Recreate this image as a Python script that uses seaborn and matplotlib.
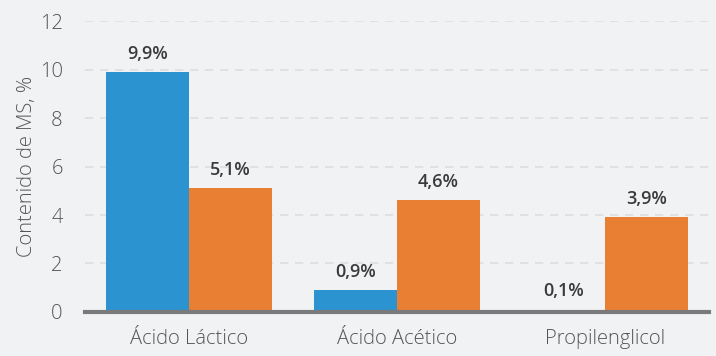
import matplotlib
matplotlib.use("Agg")
import matplotlib.pyplot as plt
import seaborn as sns
import pandas as pd

categories = ["Ácido Láctico", "Ácido Acético", "Propilenglicol"]
series_names = ["Serie A", "Serie B"]
values_a = [9.9, 0.9, 0.1]
values_b = [5.1, 4.6, 3.9]
yticks = [0, 2, 4, 6, 8, 10, 12]
ylabel = "Contenido de MS, %"

bg = "#f0f2f4"
colors = ["#2a93d0", "#e87f33"]

sns.set_theme(style="white")
plt.rcParams["font.family"] = ["Open Sans", "DejaVu Sans"]

df = pd.DataFrame({
    "cat": categories * 2,
    "serie": [series_names[0]] * 3 + [series_names[1]] * 3,
    "val": values_a + values_b,
})

fig = plt.figure(figsize=(7.16, 3.56), dpi=100, facecolor=bg)
ax = fig.add_axes([0.1187, 0.1236, 0.990 - 0.1187, 0.941 - 0.1236])
ax.set_facecolor(bg)

sns.barplot(data=df, x="cat", y="val", hue="serie", palette=colors,
            order=categories, hue_order=series_names, width=0.8,
            saturation=1, legend=False, ax=ax, linewidth=0, zorder=3)

ax.set_xlim(-0.5, 2.5)
ax.set_ylim(0, 12)
ax.set_yticks(yticks)
ax.set_yticklabels([str(t) for t in yticks])
ax.yaxis.grid(True, color="#dcdee0", linestyle=(0, (5, 4)), linewidth=1.2, zorder=0)
ax.xaxis.grid(False)
for s in ["top", "right", "left"]:
    ax.spines[s].set_visible(False)
ax.spines["bottom"].set_color("#7a7a7a")
ax.spines["bottom"].set_linewidth(3)
ax.spines["bottom"].set_zorder(5)
ax.tick_params(axis="both", length=0, labelsize=14.5, colors="#555555")
ax.tick_params(axis="y", pad=16)
ax.tick_params(axis="x", pad=12)
for lab in ax.get_xticklabels() + ax.get_yticklabels():
    lab.set_fontweight("light")
ax.set_xlabel("")
ax.set_ylabel(ylabel, fontsize=14.5, color="#555555", labelpad=2, fontweight="light")

for cont in ax.containers:
    for bar in cont:
        h = bar.get_height()
        ax.annotate(f"{h:.1f}".replace(".", ",") + "%",
                    (bar.get_x() + bar.get_width() / 2, h),
                    xytext=(0, 9.5), textcoords="offset points",
                    ha="center", va="baseline", fontsize=13,
                    fontweight="semibold", color="#3a3a3a")

fig.savefig("out.png", dpi=100, facecolor=bg)
